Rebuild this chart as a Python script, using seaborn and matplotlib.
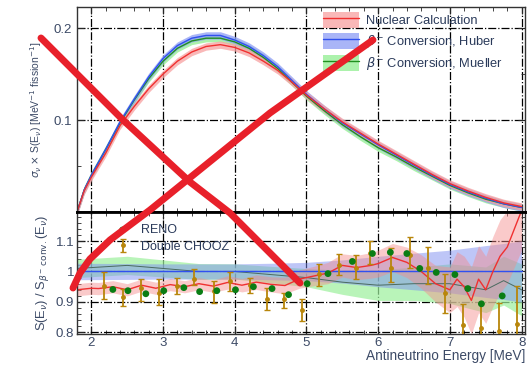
import numpy as np
import pandas as pd
import matplotlib.pyplot as plt
import seaborn as sns
from matplotlib.lines import Line2D
from matplotlib.ticker import MultipleLocator

# ---------------- data ----------------
energy = [1.8, 1.9, 2.0, 2.2, 2.4, 2.6, 2.8, 3.0, 3.2, 3.4, 3.6, 3.8, 4.0, 4.2, 4.4,
          4.6, 4.8, 5.0, 5.25, 5.5, 5.75, 6.0, 6.25, 6.5, 6.75, 7.0, 7.25, 7.5, 7.75, 8.0]
huber = [0.000, 0.024, 0.040, 0.068, 0.098, 0.123, 0.147, 0.167, 0.181, 0.189, 0.192,
         0.192, 0.187, 0.180, 0.170, 0.158, 0.143, 0.128, 0.112, 0.097, 0.085, 0.073,
         0.062, 0.051, 0.040, 0.030, 0.022, 0.015, 0.009, 0.005]
mueller = [0.000, 0.024, 0.040, 0.068, 0.097, 0.122, 0.145, 0.164, 0.178, 0.186, 0.189,
           0.189, 0.185, 0.178, 0.168, 0.156, 0.141, 0.126, 0.110, 0.095, 0.082, 0.070,
           0.060, 0.049, 0.039, 0.029, 0.021, 0.014, 0.009, 0.005]
nuclear = [0.000, 0.023, 0.038, 0.064, 0.094, 0.115, 0.134, 0.150, 0.164, 0.174, 0.180,
           0.182, 0.179, 0.173, 0.164, 0.154, 0.141, 0.127, 0.112, 0.098, 0.086, 0.074,
           0.063, 0.052, 0.041, 0.031, 0.023, 0.016, 0.010, 0.006]

# ratio panel
e_ratio = [1.8, 2.0, 2.1, 2.3, 2.5, 2.7, 2.9, 3.1, 3.3, 3.5, 3.7, 3.9, 4.1, 4.3, 4.5,
           4.7, 4.9, 5.1, 5.3, 5.5, 5.7, 5.9, 6.0, 6.2, 6.4, 6.6, 6.8, 7.0, 7.1, 7.2,
           7.3, 7.4, 7.5, 7.6, 7.7, 7.8, 7.9, 8.0]
nuclear_ratio = [0.94, 0.945, 0.944, 0.95, 0.94, 0.955, 0.945, 0.957, 0.95, 0.96, 0.952,
                 0.964, 0.955, 0.965, 0.958, 0.954, 0.975, 0.985, 0.995, 1.02, 1.013,
                 1.02, 1.026, 1.046, 1.03, 1.0, 0.96, 0.94, 0.975, 0.95, 0.905, 0.975,
                 0.94, 1.0, 1.05, 1.08, 1.14, 1.2]
nuclear_err = [0.02, 0.02, 0.02, 0.02, 0.02, 0.02, 0.02, 0.02, 0.02, 0.02, 0.02, 0.022,
               0.022, 0.024, 0.025, 0.027, 0.03, 0.032, 0.035, 0.038, 0.04, 0.042, 0.044,
               0.046, 0.05, 0.055, 0.06, 0.075, 0.09, 0.1, 0.11, 0.11, 0.11, 0.115,
               0.12, 0.12, 0.125, 0.13]
e_band = [1.8, 2.5, 3.0, 3.5, 4.0, 4.5, 5.0, 5.5, 6.0, 6.5, 7.0, 7.5, 7.75, 8.0]
huber_ratio = [1.0, 1.0, 1.0, 1.0, 1.0, 1.0, 1.0, 1.0, 1.0, 1.0, 1.0, 1.0, 1.0, 1.0]
huber_err = [0.027, 0.026, 0.025, 0.025, 0.025, 0.027, 0.03, 0.038, 0.05, 0.06, 0.07,
             0.085, 0.092, 0.1]
mueller_ratio = [1.01, 1.02, 1.01, 1.0, 1.0, 0.99, 0.98, 0.965, 0.955, 0.96, 0.96, 0.94,
                 0.97, 0.94]
mueller_err = [0.03, 0.03, 0.028, 0.026, 0.025, 0.027, 0.03, 0.04, 0.05, 0.055, 0.065,
               0.075, 0.08, 0.085]

reno_e = [2.3, 2.51, 2.76, 3.01, 3.29, 3.51, 3.75, 4.01, 4.26, 4.52, 4.75, 5.01, 5.3,
          5.64, 5.92, 6.17, 6.4, 6.58, 6.81, 7.07, 7.25, 7.44, 7.73]
reno_r = [0.941, 0.937, 0.927, 0.937, 0.947, 0.934, 0.937, 0.94, 0.95, 0.944, 0.924,
          0.96, 0.993, 1.033, 1.059, 1.063, 1.059, 1.01, 0.997, 0.99, 0.944, 0.894, 0.92]

dc_e = [2.18, 2.44, 2.69, 2.94, 3.19, 3.43, 3.71, 3.93, 4.21, 4.45, 4.68, 4.94, 5.18,
        5.45, 5.69, 5.88, 6.18, 6.44, 6.69, 6.93, 7.18, 7.44, 7.69, 7.94]
dc_r = [0.954, 0.917, 0.947, 0.93, 0.954, 0.977, 0.937, 0.97, 0.957, 0.911, 0.911, 0.874,
        0.993, 1.02, 1.013, 1.06, 1.01, 1.053, 1.01, 0.93, 0.825, 0.815, 0.805, 0.828]
dc_lo = [0.043, 0.03, 0.043, 0.04, 0.027, 0.02, 0.04, 0.033, 0.027, 0.037, 0.031, 0.036,
         0.039, 0.033, 0.036, 0.034, 0.046, 0.04, 0.05, 0.065, 0.05, 0.05, 0.05, 0.05]
dc_hi = [0.043, 0.027, 0.03, 0.047, 0.026, 0.03, 0.033, 0.027, 0.023, 0.036, 0.019, 0.037,
         0.033, 0.039, 0.04, 0.04, 0.066, 0.059, 0.07, 0.063, 0.069, 0.083, 0.093, 0.126]

legend_top = ["Nuclear Calculation", r"$\beta^{-}$ Conversion, Huber",
              r"$\beta^{-}$ Conversion, Mueller"]

# ---------------- style ----------------
sns.set_style("ticks")
plt.rcParams["font.family"] = ["Liberation Sans", "DejaVu Sans"]
plt.rcParams["xtick.direction"] = "in"
plt.rcParams["ytick.direction"] = "in"
tick_col = "#3c4a66"
text_col = "#2a3a5a"

red, blue, green = "#f03030", "#3050f0", "#209020"

fig = plt.figure(figsize=(5.31, 3.65), dpi=100)
ax1 = fig.add_axes([0.145, 0.419, 0.844, 0.562])
ax2 = fig.add_axes([0.145, 0.085, 0.844, 0.334])

top = pd.DataFrame({"E": energy, "huber": huber, "mueller": mueller, "nuclear": nuclear})
e = np.array(energy)

# ---------------- top panel ----------------
for col, c, lc in [("mueller", "#90ee90", green),
                   ("huber", "#8d9cf5", blue),
                   ("nuclear", "#f7a0a0", red)]:
    v = top[col].to_numpy()
    ax1.fill_between(e, v - 0.004, v + 0.004, color=c, alpha=0.75, lw=0)
    sns.lineplot(data=top, x="E", y=col, ax=ax1, color=lc, lw=1.0)

ax1.set_xlim(1.8, 8.05)
ax1.set_ylim(0, 0.223)
ax1.xaxis.set_major_locator(MultipleLocator(1))
ax1.xaxis.set_minor_locator(MultipleLocator(0.2))
ax1.set_yticks([0.1, 0.2])
ax1.set_yticklabels(["0.1", "0.2"])
ax1.yaxis.set_minor_locator(MultipleLocator(0.05))
ax1.tick_params(axis="x", labelbottom=False, top=True, which="both")
ax1.tick_params(axis="y", right=True, which="both", labelsize=9.5, labelcolor=tick_col)
ax1.tick_params(which="major", length=5)
ax1.tick_params(which="minor", length=3)
ax1.grid(True, which="major", color="black", ls="-.", lw=0.9)
ax1.set_xlabel("")
ax1.set_ylabel(r"$\sigma_\nu$ $\times$ S(E$_\nu$) [MeV$^{-1}$ fission$^{-1}$]",
               fontsize=7.5, color=tick_col, labelpad=7)

handles = [
    (plt.Rectangle((0, 0), 1, 1, color="#f7a0a0", alpha=0.75, lw=0), Line2D([], [], color=red, lw=1)),
    (plt.Rectangle((0, 0), 1, 1, color="#8d9cf5", alpha=0.75, lw=0), Line2D([], [], color=blue, lw=1)),
    (plt.Rectangle((0, 0), 1, 1, color="#90ee90", alpha=0.75, lw=0), Line2D([], [], color=green, lw=1)),
]
ax1.legend(handles, legend_top, loc="upper left", bbox_to_anchor=(0.549, 0.975),
           borderaxespad=0, borderpad=0, frameon=False, fontsize=9.3,
           handlelength=2.8, handleheight=1.5, labelspacing=0.4, handletextpad=0.5,
           labelcolor=text_col)

# ---------------- bottom panel ----------------
eb = np.array(e_band)
ax2.fill_between(eb, np.array(mueller_ratio) - mueller_err, np.array(mueller_ratio) + mueller_err,
                 color="#9cf09c", alpha=0.7, lw=0)
ax2.fill_between(eb, np.array(huber_ratio) - huber_err, np.array(huber_ratio) + huber_err,
                 color="#7f8ff0", alpha=0.5, lw=0)
er = np.array(e_ratio)
ax2.fill_between(er, np.array(nuclear_ratio) - nuclear_err, np.array(nuclear_ratio) + nuclear_err,
                 color="#f58a8a", alpha=0.45, lw=0)
ratio_df = pd.DataFrame({"E": e_ratio, "r": nuclear_ratio})
band_df = pd.DataFrame({"E": e_band, "h": huber_ratio, "m": mueller_ratio})
sns.lineplot(data=band_df, x="E", y="m", ax=ax2, color="#4a6a60", lw=0.7)
sns.lineplot(data=band_df, x="E", y="h", ax=ax2, color=blue, lw=1.0)
sns.lineplot(data=ratio_df, x="E", y="r", ax=ax2, color=red, lw=1.0)

ax2.errorbar(dc_e, dc_r, yerr=[dc_lo, dc_hi], fmt="o", ms=2.5, color="#b8860b",
             ecolor="#b8860b", elinewidth=1.3, capsize=2.2, capthick=1.0,
             label="Double CHOOZ", zorder=4)
sns.scatterplot(x=reno_e, y=reno_r, ax=ax2, color="#0a7d14", s=24, edgecolor="none",
                label="RENO", zorder=5)

ax2.set_xlim(1.8, 8.05)
ax2.set_ylim(0.795, 1.195)
ax2.xaxis.set_major_locator(MultipleLocator(1))
ax2.xaxis.set_minor_locator(MultipleLocator(0.2))
ax2.set_yticks([0.8, 0.9, 1.0, 1.1])
ax2.set_yticklabels(["0.8", "0.9", "1", "1.1"])
ax2.yaxis.set_minor_locator(MultipleLocator(0.02))
ax2.tick_params(axis="both", which="both", top=True, right=True)
ax2.tick_params(which="major", length=5, labelsize=9.5, labelcolor=tick_col, pad=2)
ax2.tick_params(which="minor", length=3)
ax2.grid(True, which="major", color="black", ls="-.", lw=0.9)
ax2.set_xlabel("Antineutrino Energy [MeV]", fontsize=9.8, color=tick_col, loc="right",
               labelpad=0)
ax2.set_ylabel(r"S(E$_\nu$) / S$_{\beta^{-}\ \rm conv.}$(E$_\nu$)", fontsize=9.3,
               color=tick_col, labelpad=3)
h, l = ax2.get_legend_handles_labels()
order = [l.index("RENO"), l.index("Double CHOOZ")]
ax2.legend([h[i] for i in order], [l[i] for i in order], loc="upper left",
           bbox_to_anchor=(0.085, 0.9), borderaxespad=0, borderpad=0, frameon=False,
           fontsize=9, labelcolor=text_col, handlelength=1.2, handletextpad=0.9,
           labelspacing=0.35)

for ax in (ax1, ax2):
    for s in ax.spines.values():
        s.set_color("#333333")
        s.set_linewidth(1.0)
ax1.spines["bottom"].set_linewidth(2.0)
ax1.spines["bottom"].set_color("black")
ax2.spines["top"].set_linewidth(2.0)
ax2.spines["top"].set_color("black")

# ---------------- red cross drawn over the picture ----------------
W, H = 531.0, 365.0
stroke1 = [(41, 38), (123, 120), (190, 182), (230, 213), (300, 283)]
stroke2 = [(73, 288), (80, 273), (90, 259), (110, 240), (150, 210), (270, 113), (373, 40)]
for pts in (stroke1, stroke2):
    xs = [p[0] / W for p in pts]
    ys = [1 - p[1] / H for p in pts]
    fig.add_artist(Line2D(xs, ys, transform=fig.transFigure, color="#e8202a", lw=5,
                          solid_capstyle="round", solid_joinstyle="round", zorder=20))

fig.savefig("out.png", dpi=100)
